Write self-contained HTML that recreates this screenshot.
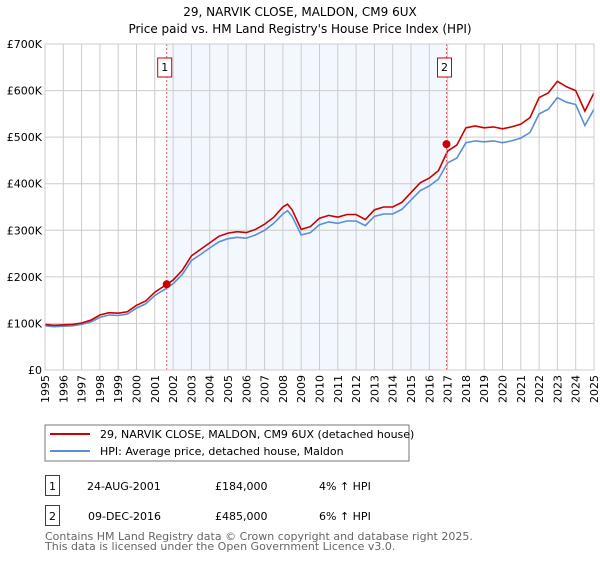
<!DOCTYPE html>
<html><head><meta charset="utf-8"><style>
body{margin:0;background:#fff;font-family:"DejaVu Sans","Liberation Sans",sans-serif;}
svg text{font-family:"DejaVu Sans","Liberation Sans",sans-serif;}
</style></head><body>
<svg id="chart" width="600" height="560" xmlns="http://www.w3.org/2000/svg">
<text x="300" y="16" text-anchor="middle" font-size="12">29, NARVIK CLOSE, MALDON, CM9 6UX</text>
<text x="300" y="33" text-anchor="middle" font-size="12">Price paid vs. HM Land Registry's House Price Index (HPI)</text>
<g id="plot"></g>
<rect x="45" y="425" width="364" height="36" fill="#fff" stroke="#777"/>
<line x1="50" y1="434" x2="90" y2="434" stroke="#cc0000" stroke-width="2"/>
<text x="100" y="438" font-size="11">29, NARVIK CLOSE, MALDON, CM9 6UX (detached house)</text>
<line x1="50" y1="451" x2="90" y2="451" stroke="#5b8fd4" stroke-width="2"/>
<text x="100" y="455" font-size="11">HPI: Average price, detached house, Maldon</text>
<g font-size="11">
<rect x="45.5" y="475.5" width="14" height="20" fill="none" stroke="#cc0000"/>
<text x="52.5" y="490" text-anchor="middle">1</text>
<text x="87" y="490">24-AUG-2001</text>
<text x="215" y="490">£184,000</text>
<text x="319" y="490">4% ↑ HPI</text>
<rect x="45.5" y="505.5" width="14" height="20" fill="none" stroke="#cc0000"/>
<text x="52.5" y="520" text-anchor="middle">2</text>
<text x="88" y="520">09-DEC-2016</text>
<text x="215" y="520">£485,000</text>
<text x="319" y="520">6% ↑ HPI</text>
</g>
<text x="45" y="540" font-size="11" fill="#666">Contains HM Land Registry data © Crown copyright and database right 2025.</text>
<text x="45" y="550" font-size="11" fill="#666">This data is licensed under the Open Government Licence v3.0.</text>
</svg>
<script>
const years=[1995,1995.5,1996,1996.5,1997,1997.5,1998,1998.5,1999,1999.5,2000,2000.5,2001,2001.5,2002,2002.5,2003,2003.5,2004,2004.5,2005,2005.5,2006,2006.5,2007,2007.5,2008,2008.25,2008.5,2009,2009.5,2010,2010.5,2011,2011.5,2012,2012.5,2013,2013.5,2014,2014.5,2015,2015.5,2016,2016.5,2017,2017.5,2018,2018.5,2019,2019.5,2020,2020.5,2021,2021.5,2022,2022.5,2023,2023.5,2024,2024.5,2025];
const hpiValues=[95,93,94,95,98,103,113,118,117,120,133,142,160,172,185,205,235,248,262,275,282,285,283,290,300,315,335,342,330,290,295,312,318,315,320,320,310,330,335,335,345,365,385,395,410,445,455,488,492,490,492,488,492,498,510,550,560,585,575,570,525,560];
const propertyValues=[98,96,97,98,101,107,118,123,122,125,139,148,167,180,193,214,245,259,273,287,294,297,295,302,313,328,350,356,344,302,308,326,332,328,334,334,323,344,350,350,360,381,402,412,428,470,483,520,524,520,522,518,522,528,542,585,595,620,608,600,556,595];
const sales=[{year:2001.65,value:184,label:"1"},{year:2016.94,value:485,label:"2"}];
const yTicks=[0,100,200,300,400,500,600,700];
const yTickLabels=["£0","£100K","£200K","£300K","£400K","£500K","£600K","£700K"];
const xTicks=[1995,1996,1997,1998,1999,2000,2001,2002,2003,2004,2005,2006,2007,2008,2009,2010,2011,2012,2013,2014,2015,2016,2017,2018,2019,2020,2021,2022,2023,2024,2025];

const L=45,R=594,T=44,B=370;
const xs=y=>L+(y-1995)/(2025-1995)*(R-L);
const ys=v=>B-v/700*(B-T);
const NS="http://www.w3.org/2000/svg";
const g=document.getElementById('plot');
function mk(tag,attrs){const e=document.createElementNS(NS,tag);for(const k in attrs)e.setAttribute(k,attrs[k]);g.appendChild(e);return e;}
let e;
e=mk('rect',{x:xs(sales[0].year),y:T,width:xs(sales[1].year)-xs(sales[0].year),height:B-T,fill:'#eef3fd',opacity:0.7});


xTicks.forEach(t=>{
  e=mk('line',{x1:xs(t),x2:xs(t),y1:T,y2:B,stroke:'#ccc','stroke-width':1});
  
  
  e=mk('text',{transform:`translate(${xs(t)+4},${B+5}) rotate(-90)`,'text-anchor':'end','font-size':11});
  e.textContent=t;
  
  
});
yTicks.forEach((t,i)=>{
  e=mk('line',{x1:L,x2:R,y1:ys(t),y2:ys(t),stroke:'#ccc','stroke-width':1});
  
  
  e=mk('text',{x:L-3,y:ys(t)+4,'text-anchor':'end','font-size':11});
  e.textContent=yTickLabels[i];
  
  
});
function path(vals,color,name){
  const d=vals.map((v,i)=>(i?'L':'M')+xs(years[i]).toFixed(1)+','+ys(v).toFixed(1)).join('');
  const p=mk('path',{d:d,fill:'none',stroke:color,'stroke-width':1.6});
  
  
}
path(hpiValues,'#5b8fd4','hpi-line');
path(propertyValues,'#cc0000','property-line');
sales.forEach(s=>{
  e=mk('line',{x1:xs(s.year),x2:xs(s.year),y1:T,y2:B,stroke:'#e06060','stroke-dasharray':'2,2','stroke-width':1});
  
  
  e=mk('circle',{cx:xs(s.year),cy:ys(s.value),r:4,fill:'#cc0000'});
  
  
  e=mk('rect',{x:xs(s.year)-9,y:58,width:14,height:19,fill:'#fff',stroke:'#cc0000'});
  
  
  e=mk('text',{x:xs(s.year)-2,y:71,'text-anchor':'middle','font-size':11});
  e.textContent=s.label;
  
  
});
e=mk('rect',{x:L,y:T,width:R-L,height:B-T,fill:'none',stroke:'#ccc'});


</script>
</body></html>
